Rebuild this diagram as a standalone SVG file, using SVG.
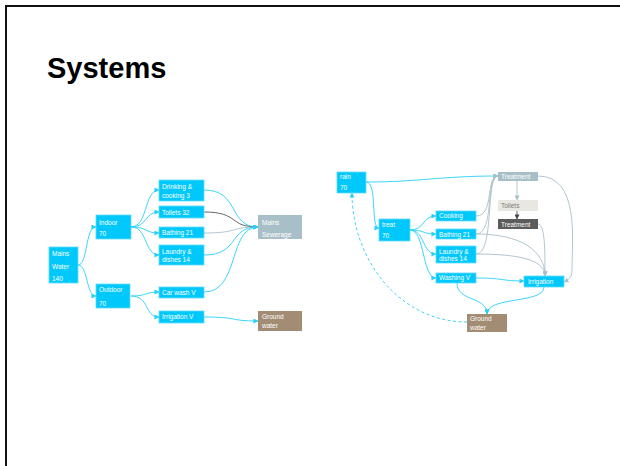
<svg xmlns="http://www.w3.org/2000/svg" width="620" height="466" viewBox="0 0 620 466">
<defs>
<style>
.n{fill:#00c8fb;stroke:#5fdcff;stroke-width:0.8}
.g{fill:#a9bfc8}
.gw{fill:#a28c73}
.tl{fill:#e9e7e1}
.dk{fill:#5c5c5c}
text{font-family:"Liberation Sans",Arial,sans-serif;font-size:6.5px;fill:#fff}
.tg{fill:#7a7a7a}
.c{fill:none;stroke:#28cff9;stroke-width:0.9}
.cg{fill:none;stroke:#a9c0ca;stroke-width:0.9}
.cd{fill:none;stroke:#555;stroke-width:0.9}
.dash{stroke-dasharray:3,2.5}
</style>
<marker id="ac" viewBox="0 0 6 6" refX="5.5" refY="3" markerWidth="5" markerHeight="5" orient="auto" markerUnits="userSpaceOnUse"><path d="M0,0L6,3L0,6z" fill="#28cff9"/></marker>
<marker id="ag" viewBox="0 0 6 6" refX="5.5" refY="3" markerWidth="5" markerHeight="5" orient="auto" markerUnits="userSpaceOnUse"><path d="M0,0L6,3L0,6z" fill="#a9c0ca"/></marker>
<marker id="ad" viewBox="0 0 6 6" refX="5.5" refY="3" markerWidth="5" markerHeight="5" orient="auto" markerUnits="userSpaceOnUse"><path d="M0,0L6,3L0,6z" fill="#444"/></marker>
</defs>
<rect width="620" height="466" fill="#fff"/>
<path d="M6,470V6H625" fill="none" stroke="#111" stroke-width="2"/>
<text x="47" y="78" style="font-size:29px;font-weight:bold;fill:#000">Systems</text>

<g id="connectors">
<!-- left -->
<path class="c" d="M78,265C88,265 85,227 96,227" marker-end="url(#ac)"/>
<path class="c" d="M78,265C88,265 86,296 96,296" marker-end="url(#ac)"/>
<path class="c" d="M131,227C148,227 144,190 159,190" marker-end="url(#ac)"/>
<path class="c" d="M131,227C148,227 144,212 159,212" marker-end="url(#ac)"/>
<path class="c" d="M131,227C148,227 144,233 159,233" marker-end="url(#ac)"/>
<path class="c" d="M131,227C148,227 144,255 159,255" marker-end="url(#ac)"/>
<path class="c" d="M204,190C240,190 228,227 258,227" marker-end="url(#ac)"/>
<path class="cd" d="M204,212C240,212 228,227 258,227"/>
<path class="cg" d="M204,233C240,233 228,227 258,227"/>
<path class="c" d="M204,255C240,255 228,227 258,227" marker-end="url(#ac)"/>
<path class="c" d="M204,292C240,292 228,227 258,227" marker-end="url(#ac)"/>
<path class="c" d="M131,296C148,296 144,292 159,292" marker-end="url(#ac)"/>
<path class="c" d="M131,296C150,296 144,317 159,317" marker-end="url(#ac)"/>
<path class="c" d="M204,317C240,317 228,321 258,321" marker-end="url(#ac)"/>
<!-- right -->
<path class="c" d="M366,182C420,182 440,176 498,176" marker-end="url(#ac)"/>
<path class="c" d="M366,182C378,182 370,228 379,228" marker-end="url(#ac)"/>
<path class="c" d="M410,230C425,230 422,216 436,216" marker-end="url(#ac)"/>
<path class="c" d="M410,230C425,230 422,234 436,234" marker-end="url(#ac)"/>
<path class="c" d="M410,230C425,230 422,254 436,254" marker-end="url(#ac)"/>
<path class="c" d="M410,230C425,230 422,278 436,278" marker-end="url(#ac)"/>
<path class="cg" d="M476,216C495,216 485,176 498,176" marker-end="url(#ag)"/>
<path class="cg" d="M476,234C495,234 485,176 498,176" marker-end="url(#ag)"/>
<path class="cg" d="M476,254C495,254 485,176 498,176" marker-end="url(#ag)"/>
<path class="cg" d="M476,234C520,234 545,250 545,276" marker-end="url(#ag)"/>
<path class="cg" d="M476,254C520,254 545,260 545,276" marker-end="url(#ag)"/>
<path class="cg" d="M517,181C517,190 517,192 517,200" marker-end="url(#ag)"/>
<path class="cd" d="M517,211C517,214 517,215 517,219" marker-end="url(#ad)"/>
<path class="cg" d="M538,224C545,224 545,250 545,276" marker-end="url(#ag)"/>
<path class="cg" d="M538,176C580,176 572,240 572,270C572,278 568,280 564,282" marker-end="url(#ag)"/>
<path class="c" d="M476,278C505,278 500,281 524,281" marker-end="url(#ac)"/>
<path class="c" d="M457,283C457,302 487,296 487,314" marker-end="url(#ac)"/>
<path class="c" d="M544,287C544,304 487,296 487,314" marker-end="url(#ac)"/>
<path class="c dash" d="M467,322C400,322 352,260 352,193" marker-end="url(#ac)"/>
</g>

<g id="mains-water"><rect class="n" x="49" y="247" width="29" height="36"/><text x="52" y="255.5">Mains</text><text x="52" y="268.5">Water</text><text x="52" y="280.5">140</text></g>
<g id="indoor"><rect class="n" x="96" y="215" width="35" height="24"/><text x="99" y="224.5">Indoor</text><text x="99" y="235.5">70</text></g>
<g id="outdoor"><rect class="n" x="96" y="284" width="34" height="24"/><text x="99" y="291.5">Outdoor</text><text x="99" y="305.5">70</text></g>
<g id="drinking"><rect class="n" x="159" y="180" width="45" height="21"/><text x="162" y="189">Drinking &amp;</text><text x="162" y="197.5">cooking 3</text></g>
<g id="toilets"><rect class="n" x="159" y="206" width="45" height="12"/><text x="162" y="214.5">Toilets 32</text></g>
<g id="bathing"><rect class="n" x="159" y="227" width="45" height="11"/><text x="162" y="234.5">Bathing 21</text></g>
<g id="laundry"><rect class="n" x="159" y="245" width="45" height="20"/><text x="162" y="253.5">Laundry &amp;</text><text x="162" y="261.5">dishes 14</text></g>
<g id="mains-sewerage"><rect class="g" x="258" y="215" width="44" height="24"/><text x="262" y="224.5">Mains</text><text x="262" y="236.5">Sewerage</text></g>
<g id="car-wash"><rect class="n" x="159" y="287" width="45" height="11"/><text x="162" y="295">Car wash V</text></g>
<g id="irrigation-v"><rect class="n" x="159" y="311" width="45" height="12"/><text x="162" y="319">Irrigation V</text></g>
<g id="ground-water-l"><rect class="gw" x="258" y="311" width="44" height="20"/><text x="262" y="319">Ground</text><text x="262" y="328">water</text></g>

<g id="rain"><rect class="n" x="337" y="172" width="29" height="21"/><text x="340" y="179">rain</text><text x="340" y="190">70</text></g>
<g id="treat"><rect class="n" x="379" y="219" width="31" height="22"/><text x="382" y="227">treat</text><text x="382" y="238">70</text></g>
<g id="cooking"><rect class="n" x="436" y="211" width="40" height="10"/><text x="439" y="218">Cooking</text></g>
<g id="bathing-r"><rect class="n" x="436" y="229" width="40" height="10"/><text x="439" y="236.5">Bathing 21</text></g>
<g id="laundry-r"><rect class="n" x="436" y="246" width="40" height="17"/><text x="439" y="254">Laundry &amp;</text><text x="439" y="261">dishes 14</text></g>
<g id="washing"><rect class="n" x="436" y="273" width="40" height="10"/><text x="439" y="280">Washing V</text></g>
<g id="treatment-top"><rect class="g" x="498" y="172" width="40" height="9"/><text x="501" y="179">Treatment</text></g>
<g id="toilets-r"><rect class="tl" x="498" y="200" width="40" height="11"/><text class="tg" x="501" y="207.5">Toilets</text></g>
<g id="treatment-dark"><rect class="dk" x="498" y="219" width="40" height="10"/><text x="501" y="226.5">Treatment</text></g>
<g id="irrigation-r"><rect class="n" x="524" y="276" width="40" height="11"/><text x="528" y="284">Irrigation</text></g>
<g id="ground-water-r"><rect class="gw" x="467" y="314" width="40" height="18"/><text x="470" y="321">Ground</text><text x="470" y="329.5">water</text></g>
</svg>
